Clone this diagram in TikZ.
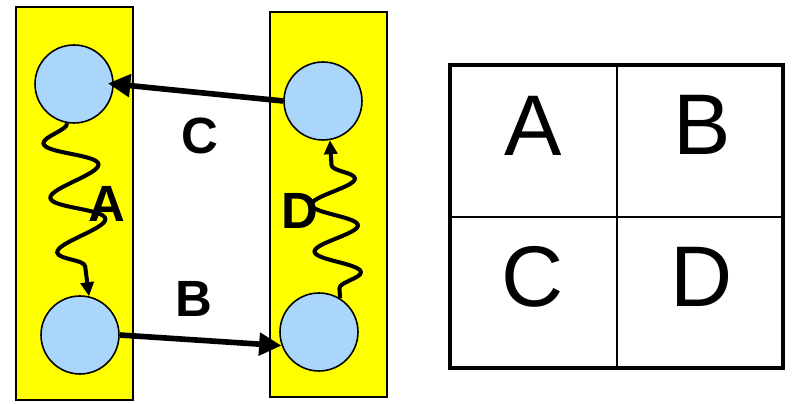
\documentclass[tikz,border=0pt]{standalone}
\usepackage{fontspec}
\setmainfont{Liberation Sans}
\usetikzlibrary{arrows.meta,decorations.pathmorphing}

\definecolor{barYellow}{RGB}{255,255,0}
\definecolor{dotBlue}{RGB}{170,214,252}

\tikzset{
  bar/.style={draw, fill=barYellow, line width=0.6pt},
  dot/.style={circle, draw, fill=dotBlue, line width=0.9pt, minimum size=1.56cm, inner sep=0pt},
  jump/.style={line width=3.2pt, -{Triangle[length=0.45cm,width=0.44cm]}},
  wiggle/.style={line width=2.3pt, -{Triangle[length=0.28cm,width=0.26cm]}, decorate},
  tag/.style={font=\bfseries\fontsize{29}{29}\selectfont, inner sep=0pt},
  cell/.style={font=\fontsize{49}{49}\selectfont, inner sep=0pt}
}

\begin{document}
\begin{tikzpicture}[x=0.02cm, y=-0.02cm]
        \useasboundingbox (0,0) rectangle (798,404);

        % yellow columns
        \draw[bar] (16,7) rectangle (133,400);
        \draw[bar] (270,12) rectangle (387,397);

        % states
        \node[dot] (topL) at (74,84) {};
        \node[dot] (botL) at (80,335) {};
        \node[dot] (topR) at (323,101) {};
        \node[dot] (botR) at (319,332) {};

        % straight jumps
        \draw[jump, shorten >=-0.12cm] (topR.west) -- (topL.east);
        \draw[jump] (botL.east) -- (botR.200);

        % wavy transitions
        \draw[wiggle, decoration={snake, mirror, segment length=1.1cm, amplitude=0.52cm, post length=0.45cm}] (topL.260) -- (botL.77);
        \draw[wiggle, decoration={snake, mirror, segment length=0.94cm, amplitude=0.45cm, pre length=0.2cm, post length=0.3cm}] (botR.58) -- (topR.280);

        % labels
        \node[tag] (labA) at (107,204) {A};
        \node[tag] (labB) at (194,299) {B};
        \node[tag] (labC) at (200,136) {C};
        \node[tag] (labD) at (300,211) {D};

        % table
        \draw[line width=2.8pt] (450,65) rectangle (783,368);
        \draw[line width=1.2pt] (617,65) -- (617,368);
        \draw[line width=1.2pt] (450,217) -- (783,217);
        \node[cell] (cA) at (533,126) {A};
        \node[cell] (cB) at (702,125) {B};
        \node[cell] (cC) at (533,277) {C};
        \node[cell] (cD) at (702,277) {D};

\end{tikzpicture}
\end{document}
